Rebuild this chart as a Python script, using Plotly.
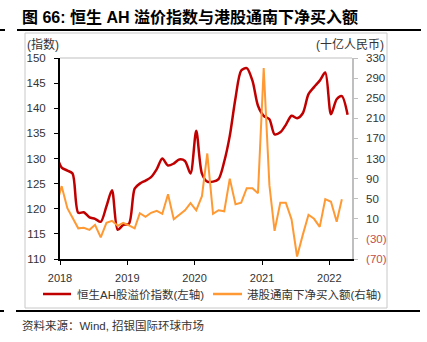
import plotly.graph_objects as go

# ---------------- data ----------------
def month_dates(start_year, start_month, n):
    out = []
    y, m = start_year, start_month
    for _ in range(n):
        out.append(f"{y:04d}-{m:02d}-10")
        m += 1
        if m > 12:
            m = 1
            y += 1
    return out

ah_premium = [131.0,
              128.2, 127.6, 127.0, 119.2, 119.3, 118.3, 118.0, 117.4, 120.5, 123.7, 115.8, 116.8,
              117.0, 124.0, 125.0, 125.6, 126.3, 127.9, 130.0, 128.6, 129.0, 129.8, 129.5, 127.0,
              135.5, 127.0, 125.4, 125.4, 125.9, 129.4, 134.5, 142.0, 147.5, 148.0, 145.5, 140.5,
              138.5, 137.8, 134.8, 135.2, 136.7, 138.5, 138.0, 139.0, 142.8, 144.2, 145.5, 147.1,
              138.8, 141.8, 142.4, 138.7]
ah_dates = month_dates(2017, 12, len(ah_premium))

southbound = [35,
              75, 31, 11, -9, -8, -12, -2, -27, 2, 6, -4, 2,
              -3, -9, 21, 14, 22, 26, 20, 59, 9, 18, 27, 41,
              27, 55, 140, 20, 27, 25, 90, 39, 42, 71, 71, 61,
              310, 77, -14, 42, 42, 9, -65, -22, 18, 10, -6, 49,
              44, 4, 49]
sb_dates = month_dates(2017, 12, len(southbound))

left_ticks = [110, 115, 120, 125, 130, 135, 140, 145, 150]
right_ticks = [-70, -30, 10, 50, 90, 130, 170, 210, 250, 290, 330]
year_ticks = ["2018-01-01", "2019-01-01", "2020-01-01", "2021-01-01", "2022-01-01"]
year_labels = ["2018", "2019", "2020", "2021", "2022"]

series_names = ["恒生AH股溢价指数(左轴)", "港股通南下净买入额(右轴)"]
title_text = "图 66: 恒生 AH 溢价指数与港股通南下净买入额"
source_text = "资料来源：Wind, 招银国际环球市场"

RED = "#C00000"
ORANGE = "#FF9933"
NEG = "#C0504D"
FONT = "Liberation Sans, Arial, Noto Sans CJK SC, sans-serif"

def fmt_right(v):
    if v < 0:
        return f'<span style="color:{NEG}">({abs(v)})</span>'
    return str(v)

# ---------------- geometry helpers (pixels -> paper) ----------------
W, H = 427, 342
PL, PR, PT, PB = 60, 352, 58, 259
def px(x):
    return (x - PL) / (PR - PL)
def py(y):
    return (PB - y) / (PB - PT)

fig = go.Figure()
fig.add_trace(go.Scatter(x=ah_dates, y=ah_premium, name=series_names[0], mode="lines",
                         line=dict(color=RED, width=2.5, shape="spline", smoothing=0.8),
                         yaxis="y", showlegend=False))
fig.add_trace(go.Scatter(x=sb_dates, y=southbound, name=series_names[1], mode="lines",
                         line=dict(color=ORANGE, width=2),
                         yaxis="y2", showlegend=False))

shapes = [
    # outer light frame
    dict(type="rect", xref="paper", yref="paper", x0=px(25), x1=px(387), y0=py(308), y1=py(33),
         line=dict(color="#C8C8C8", width=1), layer="below"),
    # top border of plot
    dict(type="line", xref="paper", yref="paper", x0=0, x1=1, y0=1, y1=1,
         line=dict(color="#BFBFBF", width=1)),
    # title rule
    dict(type="line", xref="paper", yref="paper", x0=px(17), x1=px(421), y0=py(30), y1=py(30),
         line=dict(color="#000000", width=2)),
    dict(type="line", xref="paper", yref="paper", x0=px(0), x1=px(5), y0=py(30), y1=py(30),
         line=dict(color="#000000", width=2)),
    # bottom rule
    dict(type="line", xref="paper", yref="paper", x0=px(16), x1=px(420), y0=py(311), y1=py(311),
         line=dict(color="#000000", width=2)),
    dict(type="line", xref="paper", yref="paper", x0=px(0), x1=px(4), y0=py(311), y1=py(311),
         line=dict(color="#000000", width=2)),
    # legend swatches
    dict(type="line", xref="paper", yref="paper", x0=px(43), x1=px(71), y0=py(294), y1=py(294),
         line=dict(color=RED, width=2.5)),
    dict(type="line", xref="paper", yref="paper", x0=px(213), x1=px(242), y0=py(294), y1=py(294),
         line=dict(color=ORANGE, width=2.5)),
]

annotations = [
    dict(text=f"<b>{title_text}</b>", xref="paper", yref="paper", x=px(20), y=py(17),
         xanchor="left", yanchor="middle", showarrow=False,
         font=dict(family="Liberation Sans, Noto Sans CJK SC", size=16, color="#000000")),
    dict(text="(指数)", xref="paper", yref="paper", x=px(25), y=py(45),
         xanchor="left", yanchor="middle", showarrow=False,
         font=dict(family=FONT, size=12, color="#333333")),
    dict(text="(十亿人民币)", xref="paper", yref="paper", x=px(386), y=py(45),
         xanchor="right", yanchor="middle", showarrow=False,
         font=dict(family=FONT, size=12, color="#333333")),
    dict(text=series_names[0], xref="paper", yref="paper", x=px(75), y=py(294),
         xanchor="left", yanchor="middle", showarrow=False,
         font=dict(family=FONT, size=11.5, color="#333333")),
    dict(text=series_names[1], xref="paper", yref="paper", x=px(245), y=py(294),
         xanchor="left", yanchor="middle", showarrow=False,
         font=dict(family=FONT, size=11.5, color="#333333")),
    dict(text=source_text, xref="paper", yref="paper", x=px(20), y=py(325),
         xanchor="left", yanchor="middle", showarrow=False,
         font=dict(family="Liberation Sans, Noto Sans CJK SC", size=11.5, color="#333333")),
]

fig.update_layout(
    width=W, height=H,
    margin=dict(l=PL, r=W - PR, t=PT, b=H - PB, pad=0),
    paper_bgcolor="white", plot_bgcolor="white",
    font=dict(family=FONT, size=11.5, color="#333333"),
    showlegend=False,
    xaxis=dict(type="date", range=["2018-01-01", "2022-05-04"],
               tickvals=year_ticks, ticktext=year_labels,
               showgrid=False, zeroline=False,
               showline=True, linecolor="#000000", linewidth=2,
               ticks="outside", ticklen=4, tickcolor="#000000", tickwidth=1,
               ticklabelstandoff=4,
               tickfont=dict(family=FONT, size=11, color="#333333")),
    yaxis=dict(range=[110, 150], tickvals=left_ticks,
               showgrid=False, zeroline=False,
               showline=True, linecolor="#000000", linewidth=2,
               ticks="outside", ticklen=4, tickcolor="#000000",
               ticklabelstandoff=6,
               tickfont=dict(family=FONT, size=11.5, color="#333333")),
    yaxis2=dict(range=[-70, 330], tickvals=right_ticks,
                ticktext=[fmt_right(v) for v in right_ticks],
                overlaying="y", side="right",
                showgrid=False, zeroline=False,
                showline=True, linecolor="#BFBFBF", linewidth=1.5,
                ticks="outside", ticklen=4, tickcolor="#BFBFBF",
                ticklabelstandoff=6,
                tickfont=dict(family=FONT, size=11.5, color="#333333")),
    shapes=shapes,
    annotations=annotations,
)

fig.write_html("out.html")
